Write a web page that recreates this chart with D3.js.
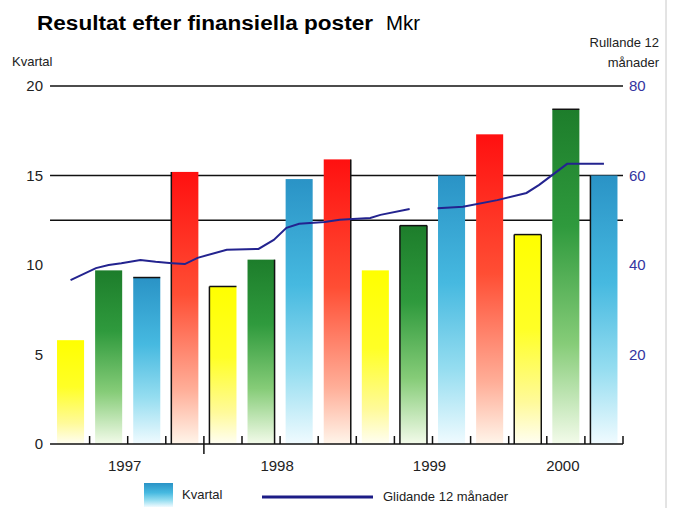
<!DOCTYPE html>
<html>
<head>
<meta charset="utf-8">
<script src="https://cdn.jsdelivr.net/npm/d3@7"></script>
<style>
  body { margin: 0; background: #fff; }
  text { font-family: "Liberation Sans", Arial, Helvetica, sans-serif; }
</style>
</head>
<body>
<svg id="chart" width="673" height="508"></svg>
<script>
// Data
var years = ["1997", "1998", "1999", "2000"];
var quarters = ["Q1", "Q2", "Q3", "Q4"];
// quarterly result, Mkr (2000 Q4 not reported yet)
var quarterValues = [
  5.8, 9.7, 9.3, 15.2,
  8.8, 10.3, 14.8, 15.9,
  9.7, 12.2, 15.0, 17.3,
  11.7, 18.7, 15.0
];
// rolling 12 months, month number from jan 1997 (null = gap in series)
var rollMonths = [2, 4, 5, 6, 7.5, 8.7, 10, 11, 12, 14.3, 16.8, 18, 19, 20, 22, 23.2, 25.6, 26.4, 28.7,
  null, 30.9, 32.9, 35.6, 37.9, 38.9, 41.1, 44];
var rollValues = [36.6, 39.3, 40.0, 40.4, 41.1, 40.7, 40.4, 40.2, 41.6, 43.4, 43.6, 45.6, 48.3, 49.2, 49.6, 50.1, 50.5, 51.2, 52.5,
  null, 52.7, 53.0, 54.5, 56.1, 57.9, 62.6, 62.6];
var leftTicks = [0, 5, 10, 15, 20];
var rightTicks = [20, 40, 60, 80];
var gridValues = [12.5, 15, 20];

var svg = d3.select("#chart");

// Scales
var slots = d3.range(years.length * quarters.length);
var x = d3.scaleBand()
  .domain(slots)
  .range([51.5, 661.1])
  .paddingInner(0.29)
  .paddingOuter(0.145);

var y = d3.scaleLinear().domain([0, 20]).range([444, 86]);
var y2 = d3.scaleLinear().domain([0, 80]).range([444, 86]);

var step = x.step();
var xMonth = d3.scaleLinear()
  .domain([2, 5])
  .range([x(0) + x.bandwidth() / 2, x(1) + x.bandwidth() / 2]);

var axisLeft = x(0) - 7;
var axisRight = x(15) - (step - x.bandwidth()) / 2;

// Gradients
var defs = svg.append("defs");
var gradStops = {
  Q1: [[0, "#ffff00"], [0.45, "#ffff26"], [0.8, "#fffa9a"], [1, "#fffef2"]],
  Q2: [[0, "#1d7d2b"], [0.35, "#2f9a3d"], [0.7, "#86cc78"], [1, "#f3fbea"]],
  Q3: [[0, "#2a93c6"], [0.4, "#46b9e0"], [0.72, "#95ddf0"], [1, "#f0fbff"]],
  Q4: [[0, "#ff1010"], [0.45, "#ff4e34"], [0.8, "#ffae98"], [1, "#fff5ea"]]
};
quarters.forEach(function(q) {
  var g = defs.append("linearGradient")
    .attr("id", "grad" + q)
    .attr("x1", 0).attr("y1", 0).attr("x2", 0).attr("y2", 1);
  gradStops[q].forEach(function(s) {
    g.append("stop").attr("offset", s[0]).attr("stop-color", s[1]);
  });
});

// Title
svg.append("text")
  .attr("x", 37).attr("y", 30)
  .attr("textLength", 336).attr("lengthAdjust", "spacingAndGlyphs")
  .style("font-size", "20px").style("font-weight", "bold")
  .text("Resultat efter finansiella poster");
svg.append("text")
  .attr("x", 386).attr("y", 30)
  .attr("textLength", 34).attr("lengthAdjust", "spacingAndGlyphs")
  .style("font-size", "20px")
  .text("Mkr");

// Axis titles
svg.append("text").attr("x", 12).attr("y", 66)
  .style("font-size", "13px").attr("fill", "#222").text("Kvartal");
svg.append("text").attr("x", 659).attr("y", 47).attr("text-anchor", "end")
  .style("font-size", "13px").attr("fill", "#222").text("Rullande 12");
svg.append("text").attr("x", 659).attr("y", 67).attr("text-anchor", "end")
  .style("font-size", "13px").attr("fill", "#222").text("månader");

// Grid lines
svg.selectAll(".grid")
  .data(gridValues)
  .enter()
  .append("line")
  .attr("x1", axisLeft).attr("x2", axisRight)
  .attr("y1", d => y(d)).attr("y2", d => y(d))
  .attr("stroke", "#111").attr("stroke-width", 1.5);

// Left tick labels
svg.selectAll(".ltick")
  .data(leftTicks)
  .enter()
  .append("text")
  .attr("x", 43).attr("y", d => y(d)).attr("dy", "0.36em")
  .attr("text-anchor", "end")
  .style("font-size", "15px").attr("fill", "#222")
  .text(d => d);

// Right tick labels
svg.selectAll(".rtick")
  .data(rightTicks)
  .enter()
  .append("text")
  .attr("x", 629).attr("y", d => y2(d)).attr("dy", "0.36em")
  .style("font-size", "15px").attr("fill", "#3434a0")
  .text(d => d);

// Bars
var bars = quarterValues.map(function(v, i) {
  return { i: i, value: v, q: quarters[i % 4] };
});

svg.selectAll(".bar")
  .data(bars)
  .enter()
  .append("rect")
  .attr("x", d => x(d.i))
  .attr("y", d => y(d.value))
  .attr("width", x.bandwidth())
  .attr("height", d => y(0) - y(d.value))
  .attr("fill", d => "url(#grad" + d.q + ")");

// dark edges on some bars (shadow look of the original)
var barEdges = { 2: "t", 3: "l", 4: "tl", 5: "r", 7: "r", 9: "tlr", 12: "tlr", 13: "t", 14: "l" };
var edgeG = svg.append("g").attr("stroke", "#111").attr("stroke-width", 1.5);
bars.forEach(function(d) {
  var e = barEdges[d.i];
  if (!e) return;
  var x0 = x(d.i), x1 = x(d.i) + x.bandwidth(), yt = y(d.value), yb = y(0);
  if (e.indexOf("t") >= 0) edgeG.append("line").attr("x1", x0).attr("x2", x1).attr("y1", yt).attr("y2", yt);
  if (e.indexOf("l") >= 0) edgeG.append("line").attr("x1", x0).attr("x2", x0).attr("y1", yt).attr("y2", yb);
  if (e.indexOf("r") >= 0) edgeG.append("line").attr("x1", x1).attr("x2", x1).attr("y1", yt).attr("y2", yb);
});

// Baseline and ticks
svg.append("line")
  .attr("x1", axisLeft).attr("x2", axisRight)
  .attr("y1", y(0)).attr("y2", y(0))
  .attr("stroke", "#111").attr("stroke-width", 1.5);

svg.selectAll(".xtick")
  .data(d3.range(1, 16))
  .enter()
  .append("line")
  .attr("x1", d => x(d) - (step - x.bandwidth()) / 2)
  .attr("x2", d => x(d) - (step - x.bandwidth()) / 2)
  .attr("y1", y(0) - 8)
  .attr("y2", d => d === 4 ? y(0) + 10 : y(0))
  .attr("stroke", "#111").attr("stroke-width", 1.5);

// Year labels
years.forEach(function(yr, k) {
  var present = bars.filter(d => Math.floor(d.i / 4) === k);
  var first = present[0].i, last = present[present.length - 1].i;
  var cx = (x(first) + x(last) + x.bandwidth()) / 2 - 3;
  svg.append("text")
    .attr("x", cx).attr("y", 471)
    .attr("text-anchor", "middle")
    .style("font-size", "15px").attr("fill", "#222")
    .text(yr);
});

// Rolling 12 months line
var lineData = rollMonths.map(function(m, i) { return { m: m, v: rollValues[i] }; });
var line = d3.line()
  .defined(d => d.m !== null && d.v !== null)
  .x(d => xMonth(d.m))
  .y(d => y2(d.v));

svg.append("path")
  .datum(lineData)
  .attr("d", line)
  .attr("fill", "none")
  .attr("stroke", "#23238f")
  .attr("stroke-width", 2);

// Legend
svg.append("rect")
  .attr("x", 144).attr("y", 483).attr("width", 29).attr("height", 24)
  .attr("fill", "url(#gradQ3)");
svg.append("text").attr("x", 182).attr("y", 499)
  .style("font-size", "13px").attr("fill", "#222").text("Kvartal");
svg.append("line")
  .attr("x1", 262).attr("x2", 373).attr("y1", 497).attr("y2", 497)
  .attr("stroke", "#1c1c86").attr("stroke-width", 3);
svg.append("text").attr("x", 383).attr("y", 501)
  .style("font-size", "13px").attr("fill", "#222").text("Glidande 12 månader");

// right frame line
svg.append("line")
  .attr("x1", 666).attr("x2", 666).attr("y1", 0).attr("y2", 508)
  .attr("stroke", "#c8c8c8").attr("stroke-width", 1);
</script>
</body>
</html>
